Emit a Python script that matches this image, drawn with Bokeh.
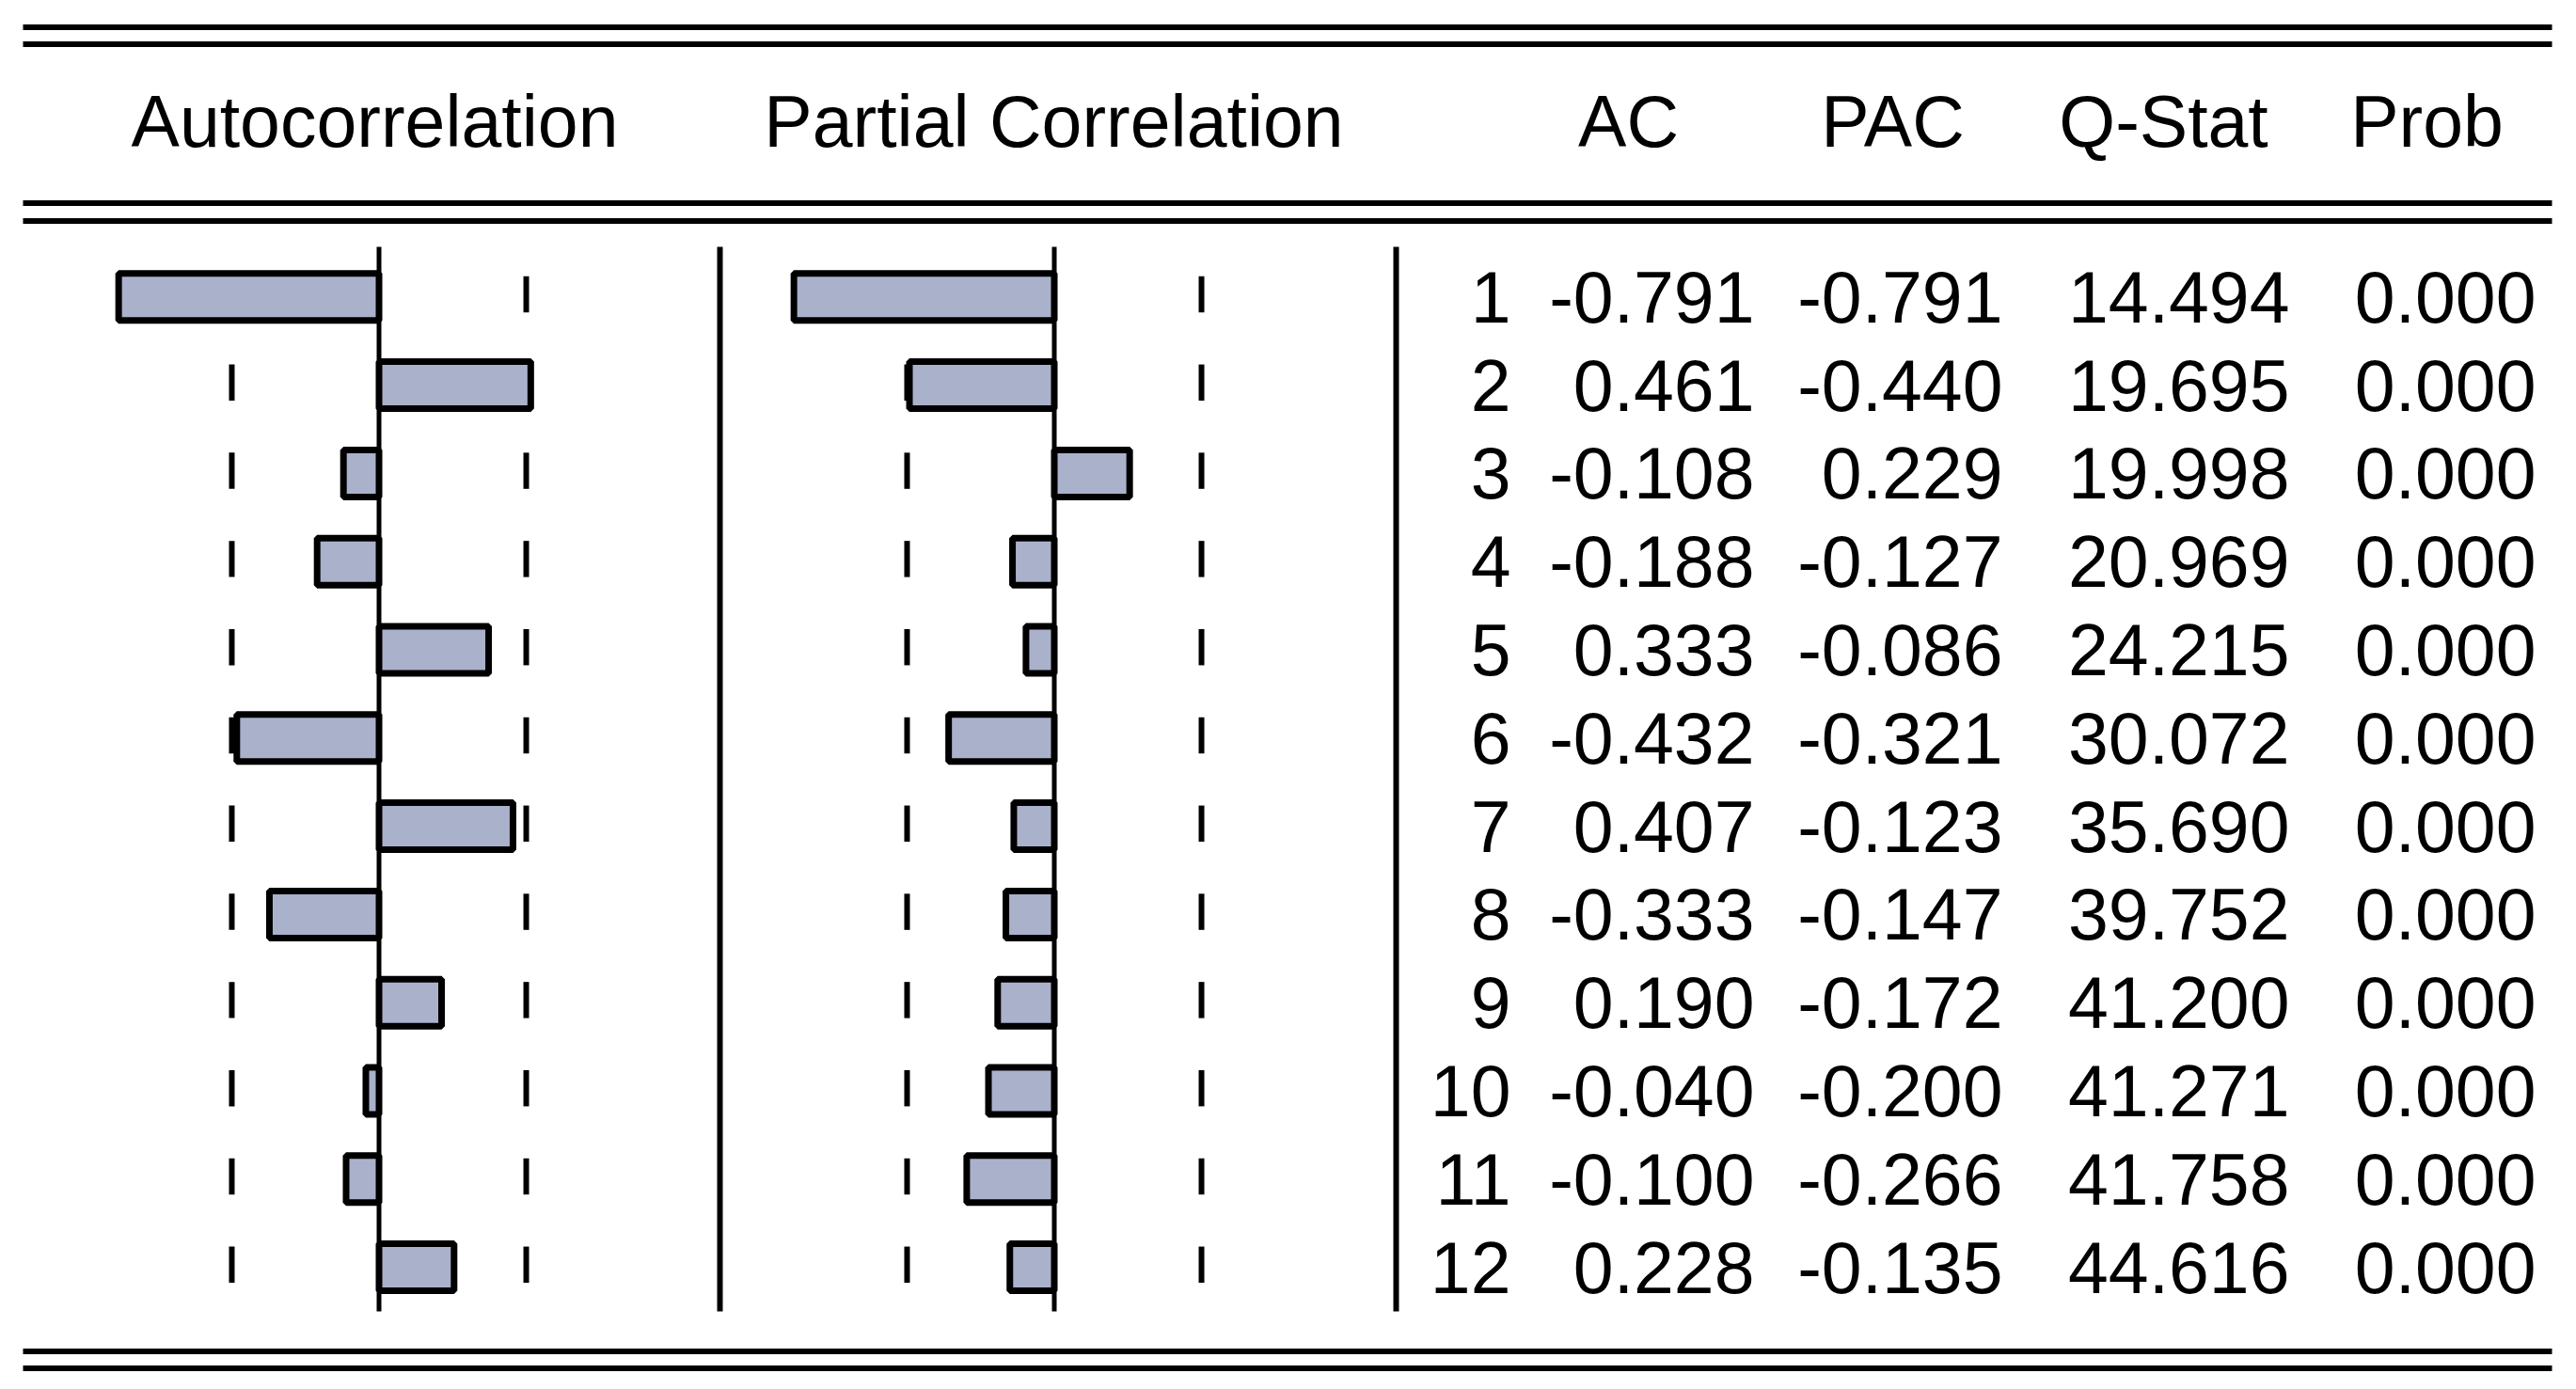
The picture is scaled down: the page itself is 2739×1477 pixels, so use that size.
import numpy as np
from bokeh.plotting import figure
from bokeh.models import Range1d, ColumnDataSource
from bokeh.core.properties import value
from bokeh.embed import file_html
from bokeh.resources import INLINE

# ---------------- data ----------------
lags = [1, 2, 3, 4, 5, 6, 7, 8, 9, 10, 11, 12]
ac = [-0.791, 0.461, -0.108, -0.188, 0.333, -0.432, 0.407, -0.333, 0.190, -0.040, -0.100, 0.228]
pac = [-0.791, -0.440, 0.229, -0.127, -0.086, -0.321, -0.123, -0.147, -0.172, -0.200, -0.266, -0.135]
qstat = [14.494, 19.695, 19.998, 20.969, 24.215, 30.072, 35.690, 39.752, 41.200, 41.271, 41.758, 44.616]
prob = [0.000, 0.000, 0.000, 0.000, 0.000, 0.000, 0.000, 0.000, 0.000, 0.000, 0.000, 0.000]
n_obs = 20
headers = ["Autocorrelation", "Partial Correlation", "AC", "PAC", "Q-Stat", "Prob"]

# ---------------- layout ----------------
W, H = 2723, 1461
ROW0 = 315.3      # y of lag 1 centre
ROWH = 93.8       # px per lag
SCALE = 350.0     # px per correlation unit
ACF_ZERO = 402.5
PACF_ZERO = 1120.5
FONT = value("Liberation Sans")
FSIZE = "77px"
BAR_COLOR = "#AAB1CB"

p = figure(width=W, height=H, output_backend="svg", toolbar_location=None,
           x_range=Range1d(0, W), y_range=Range1d(H, 0),
           min_border=0, outline_line_color=None, background_fill_color="white",
           border_fill_color="white")
p.axis.visible = False
p.grid.visible = False

p.extra_y_ranges = {"lag": Range1d(1 + (H - ROW0) / ROWH, 1 + (0 - ROW0) / ROWH)}
p.extra_x_ranges = {
    "acf": Range1d((0 - ACF_ZERO) / SCALE, (W - ACF_ZERO) / SCALE),
    "pacf": Range1d((0 - PACF_ZERO) / SCALE, (W - PACF_ZERO) / SCALE),
}

src = ColumnDataSource(dict(
    lag=lags, ac=ac, pac=pac,
    lag_txt=[str(l) for l in lags],
    ac_txt=[f"{v:.3f}" for v in ac],
    pac_txt=[f"{v:.3f}" for v in pac],
    q_txt=[f"{v:.3f}" for v in qstat],
    p_txt=[f"{v:.3f}" for v in prob],
))

# horizontal double rules
rule_y = [28.5, 46.5, 215.5, 234.5, 1436.5, 1454.5]
p.segment(x0=[24] * 6, x1=[2713] * 6, y0=rule_y, y1=rule_y,
          line_color="black", line_width=6)

# confidence bound dashes (+-2/sqrt(T))
bound = 2 / np.sqrt(n_obs)
lag_arr = np.array(lags, dtype=float)
for rng in ("acf", "pacf"):
    for sgn in (-1, 1):
        p.segment(x0=[sgn * bound] * len(lags), x1=[sgn * bound] * len(lags),
                  y0=lag_arr - 0.235, y1=lag_arr + 0.175,
                  x_range_name=rng, y_range_name="lag",
                  line_color="black", line_width=6)

# bars
p.hbar(y="lag", left=0, right="ac", height=0.533, source=src,
       x_range_name="acf", y_range_name="lag",
       fill_color=BAR_COLOR, line_color="black", line_width=7)
p.hbar(y="lag", left=0, right="pac", height=0.533, source=src,
       x_range_name="pacf", y_range_name="lag",
       fill_color=BAR_COLOR, line_color="black", line_width=7)

# zero lines
for rng in ("acf", "pacf"):
    p.segment(x0=[0], x1=[0], y0=[262], y1=[1394], x_range_name=rng,
              line_color="black", line_width=5)
# separators
p.segment(x0=[765, 1484], x1=[765, 1484], y0=[262, 262], y1=[1394, 1394],
          line_color="black", line_width=6)

# headers
hx = [398, 1120, 1731, 2012, 2300, 2580]
p.text(x=hx, y=[128] * 6, text=headers, text_font=FONT, text_font_size=FSIZE,
       text_align="center", text_baseline="alphabetic", text_color="black")

# table values
for col, xr in (("lag_txt", 1606), ("ac_txt", 1865), ("pac_txt", 2129),
                ("q_txt", 2434), ("p_txt", 2696)):
    p.text(x=xr, y="lag", text=col, source=src, y_range_name="lag",
           y_offset=0, text_font=FONT, text_font_size=FSIZE,
           text_align="right", text_baseline="alphabetic", text_color="black")

open("out.html", "w").write(file_html(p, INLINE))
